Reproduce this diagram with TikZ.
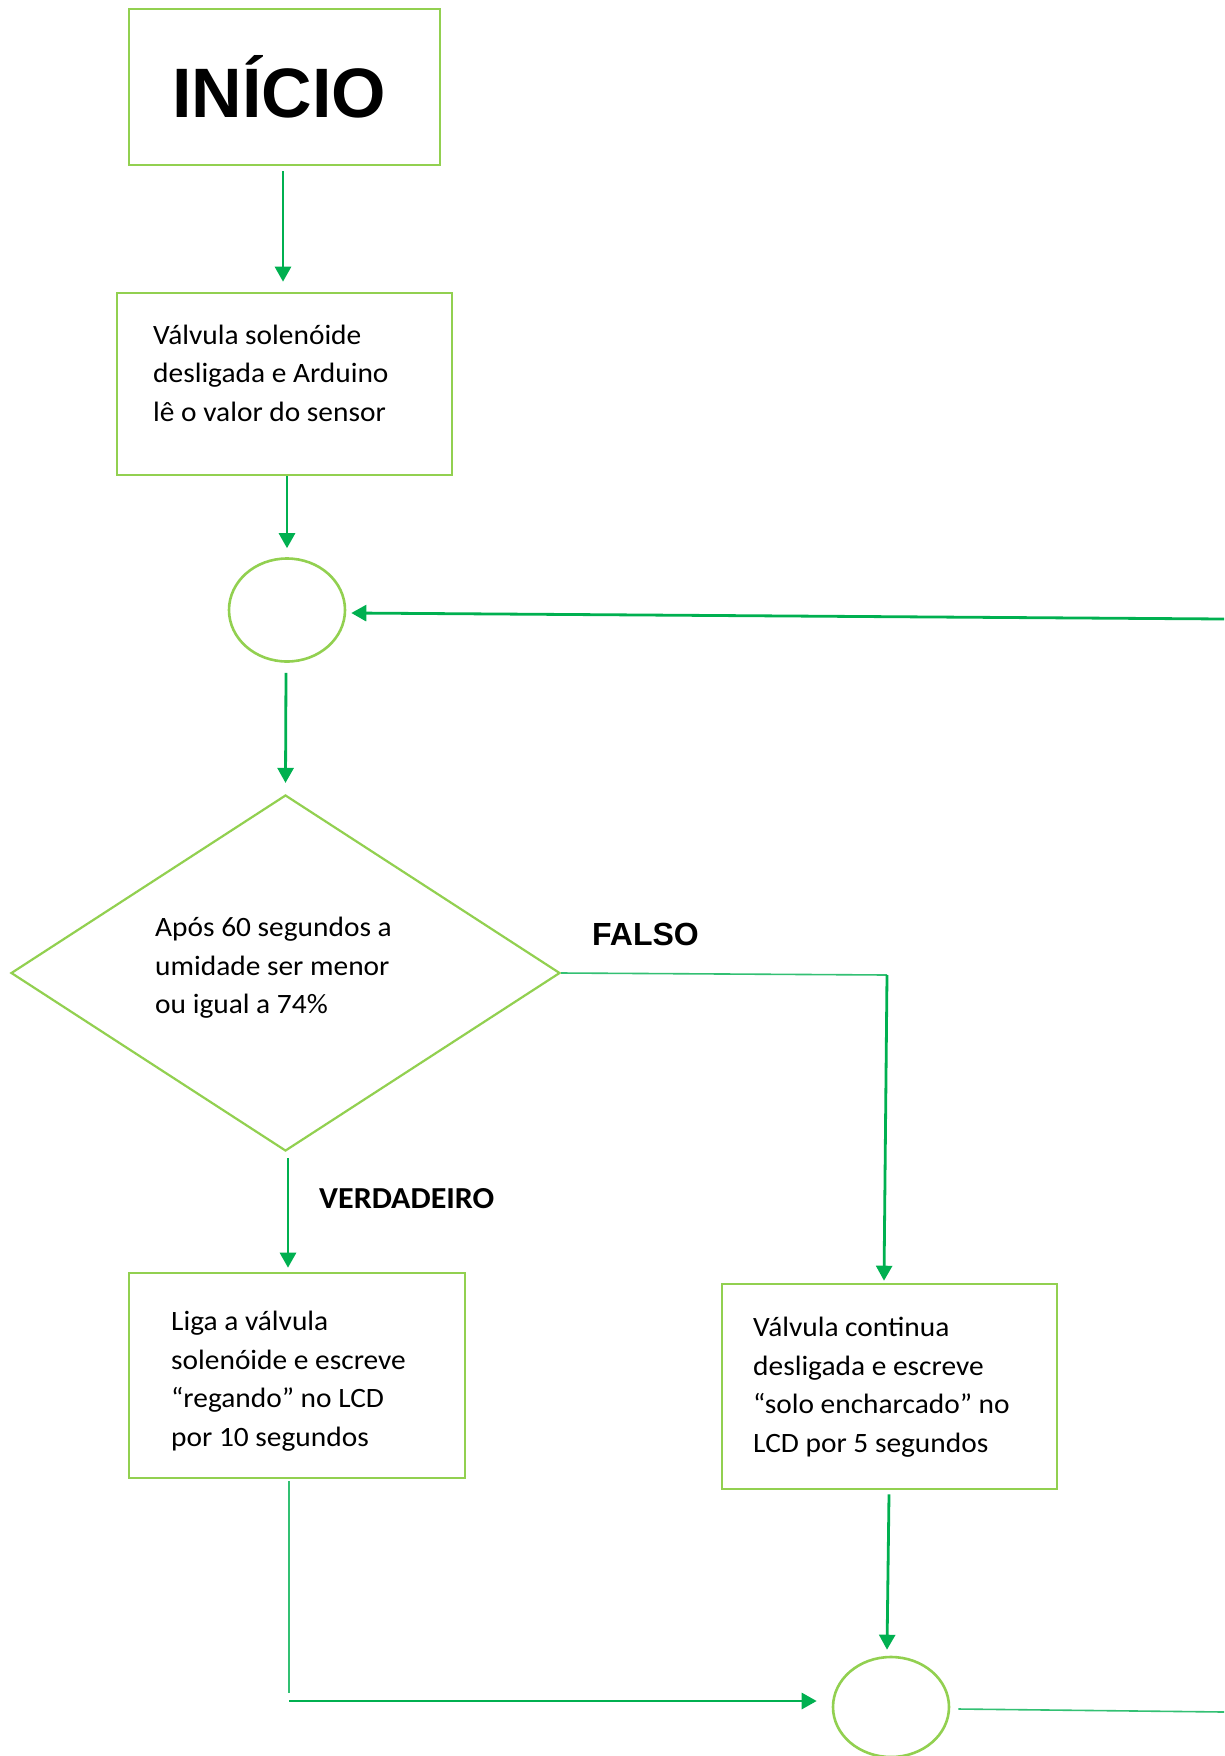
\documentclass[tikz,border=0pt]{standalone}
\usepackage{fontspec}
\setmainfont{Carlito}[FakeStretch=1.05]
\newfontfamily\arialfont{Liberation Sans}
\usetikzlibrary{shapes.geometric,arrows.meta}
\definecolor{boxgreen}{RGB}{146,208,80}
\definecolor{arrgreen}{RGB}{0,176,80}
\tikzset{
  boxstyle/.style={draw=boxgreen,line width=2.6pt,rectangle,inner sep=0pt},
  ovalstyle/.style={draw=boxgreen,line width=2.6pt,ellipse,inner sep=0pt},
  decstyle/.style={draw=boxgreen,line width=2.2pt,diamond,inner sep=0pt},
  bodytext/.style={anchor=west,align=left,inner sep=0pt,font=\fontsize{28}{38.5}\selectfont},
  arr/.style={draw=arrgreen,line width=2.8pt,-{Triangle[length=15pt,width=16pt]}},
  thinline/.style={draw=arrgreen!80!white,line width=1.6pt}
}
\begin{document}
\begin{tikzpicture}[x=1pt,y=-1pt]
\useasboundingbox (0,0) rectangle (1224,1756);
% shapes
\node[boxstyle,minimum width=311pt,minimum height=156pt] (start) at (284.5,87) {};
\node[boxstyle,minimum width=335pt,minimum height=182pt] (read) at (284.5,384) {};
\node[ovalstyle,minimum width=116pt,minimum height=103pt] (c1) at (287,610) {};
\node[decstyle,minimum width=549pt,minimum height=356pt] (dec) at (285.5,973) {};
\node[boxstyle,minimum width=336pt,minimum height=205pt] (liga) at (297,1375.5) {};
\node[boxstyle,minimum width=335pt,minimum height=205pt] (cont) at (889.5,1386.5) {};
\node[ovalstyle,minimum width=116pt,minimum height=100pt] (c2) at (891,1707) {};
% texts
\node[anchor=base,inner sep=0pt,font=\arialfont\bfseries\fontsize{70}{80}\selectfont] (startT) at (279,117) {INÍCIO};
\node[bodytext] (readT) at (153,373) {Válvula solenóide\\desligada e Arduino\\lê o valor do sensor};
\node[bodytext] (decT) at (155,968) {Após 60 segundos a\\umidade ser menor\\ou igual a 74\%};
\node[bodytext] (ligaT) at (171,1381) {Liga a válvula\\solenóide e escreve\\“regando” no LCD\\por 10 segundos};
\node[bodytext] (contT) at (753,1387) {Válvula continua\\desligada e escreve\\“solo encharcado” no\\LCD por 5 segundos};
\node[anchor=base west,inner sep=0pt,font=\arialfont\bfseries\fontsize{32}{38}\selectfont] (falsoT) at (592,945) {FALSO};
\node[anchor=base west,inner sep=0pt,font=\bfseries\fontsize{30.5}{36}\selectfont] (verdT) at (319,1208) {VERDADEIRO};
% free ends
\coordinate (rin) at (1224,619);
\coordinate (fk) at (887,975);
\coordinate (lb) at (289,1693);
\coordinate (lh) at (289,1701);
\coordinate (rout) at (1224,1712);
% connectors
\draw[arr] ([xshift=-1.5pt,yshift=-5pt]start.south) -- ([xshift=-1.5pt,yshift=10pt]read.north);
\draw[arr] ([xshift=2.5pt]read.south) -- ([yshift=9pt]c1.north);
\draw[arr] ([xshift=-1pt,yshift=-10pt]c1.south) -- ([yshift=11pt]dec.north);
\draw[arr] (rin) -- ([xshift=5pt,yshift=-3pt]c1.east);
\draw[thinline] (dec.east) -- (fk);
\draw[arr] (fk) -- ([xshift=-5.5pt,yshift=2pt]cont.north);
\draw[arr] ([xshift=2.5pt,yshift=-6pt]dec.south) -- ([xshift=-9pt,yshift=4pt]liga.north);
\draw[thinline] ([xshift=-8pt,yshift=-2pt]liga.south) -- (lb);
\draw[arr] (lh) -- ([xshift=-15pt,yshift=6pt]c2.west);
\draw[arr] ([xshift=-0.5pt,yshift=-4pt]cont.south) -- ([xshift=-4pt,yshift=6pt]c2.north);
\draw[thinline] ([xshift=8pt,yshift=-2pt]c2.east) -- (rout);
\end{tikzpicture}
\end{document}
